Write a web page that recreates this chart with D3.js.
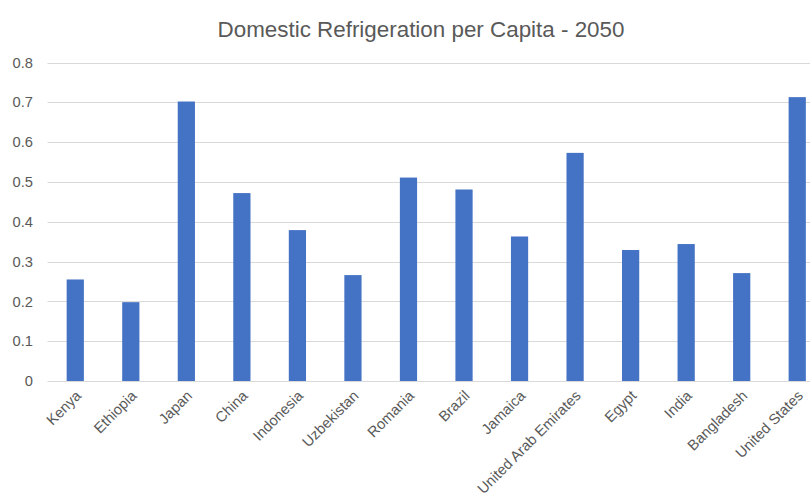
<!DOCTYPE html>
<html>
<head>
<meta charset="utf-8">
<script src="https://cdn.jsdelivr.net/npm/d3@7"></script>
<style>
  body { margin: 0; background: #fff; }
  svg { display: block; font-family: "Liberation Sans", Arial, sans-serif; }
</style>
</head>
<body>
<div id="chart"></div>
<script>
// Domestic refrigeration per capita, 2050
const countries = ["Kenya", "Ethiopia", "Japan", "China", "Indonesia", "Uzbekistan", "Romania",
  "Brazil", "Jamaica", "United Arab Emirates", "Egypt", "India", "Bangladesh", "United States"];
const values = [0.255, 0.198, 0.702, 0.472, 0.379, 0.266, 0.511,
  0.481, 0.363, 0.573, 0.329, 0.344, 0.271, 0.713];
const yTicks = [0, 0.1, 0.2, 0.3, 0.4, 0.5, 0.6, 0.7, 0.8];

const width = 810, height = 501;
// plot area runs a little past the right edge of the window
const margin = {top: 62.5, right: -15, bottom: 120, left: 47.5};

const svg = d3.select("#chart")
    .append("svg")
    .attr("width", width)
    .attr("height", height);

const x = d3.scaleBand()
    .domain(countries)
    .range([margin.left, width - margin.right])
    .paddingInner(0.69)
    .paddingOuter(0.345);

const y = d3.scaleLinear()
    .domain([0, 0.8])
    .range([height - margin.bottom, margin.top]);

// Title
svg.append("text")
    .attr("x", 421)
    .attr("y", 37)
    .attr("text-anchor", "middle")
    .style("font-size", "22.4px")
    .style("fill", "#595959")
    .text("Domestic Refrigeration per Capita - 2050");

// Gridlines
svg.append("g")
    .selectAll("line")
    .data(yTicks)
    .enter()
    .append("line")
    .attr("x1", margin.left)
    .attr("x2", width - margin.right)
    .attr("y1", d => Math.round(y(d)) + 0.5)
    .attr("y2", d => Math.round(y(d)) + 0.5)
    .style("stroke", "#d9d9d9")
    .style("stroke-width", 1);

// Y axis labels
svg.append("g")
    .selectAll("text")
    .data(yTicks)
    .enter()
    .append("text")
    .attr("x", 33)
    .attr("y", d => y(d))
    .attr("dy", "0.35em")
    .attr("text-anchor", "end")
    .style("font-size", "14.7px")
    .style("fill", "#595959")
    .text(d => d === 0 ? "0" : d.toFixed(1));

// Bars
svg.append("g")
    .selectAll("rect")
    .data(countries)
    .enter()
    .append("rect")
    .attr("x", d => x(d))
    .attr("width", x.bandwidth())
    .attr("y", (d, i) => y(values[i]))
    .attr("height", (d, i) => y(0) - y(values[i]))
    .style("fill", "#4472c4");

// X axis labels, rotated
svg.append("g")
    .selectAll("text")
    .data(countries)
    .enter()
    .append("text")
    .attr("transform", d => `translate(${x(d) + x.bandwidth() / 2 + 3},${y(0) + 12}) rotate(-45)`)
    .attr("text-anchor", "end")
    .attr("dy", "0.35em")
    .style("font-size", "14.7px")
    .style("fill", "#595959")
    .text(d => d);
</script>
</body>
</html>
